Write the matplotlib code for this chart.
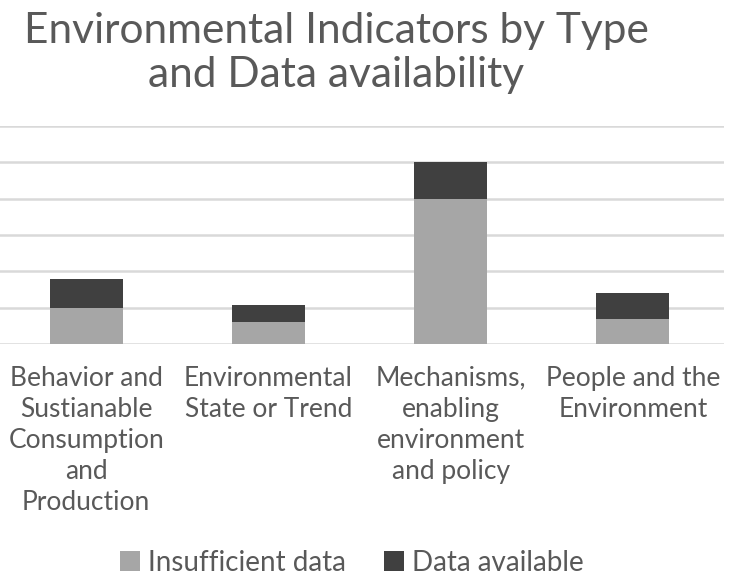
import matplotlib
matplotlib.use("Agg")
import matplotlib.pyplot as plt
import numpy as np

categories = ["Behavior and\nSustianable\nConsumption\nand\nProduction",
              "Environmental\nState or Trend",
              "Mechanisms,\nenabling\nenvironment\nand policy",
              "People and the\nEnvironment"]
insufficient = [5, 3, 20, 3.4]
available = [4, 2.4, 5, 3.6]
series_names = ["Insufficient data", "Data available"]

plt.rcParams['font.family'] = ['Lato', 'DejaVu Sans']
W, H = 731, 584
fig = plt.figure(figsize=(W/100, H/100), dpi=100)
ax = fig.add_axes([-5/W, (H-344)/H, 729/W, (344-126)/H])

x = np.arange(len(categories))
c1, c2 = "#a6a6a6", "#404040"
ax.bar(x, insufficient, width=0.4, color=c1, label=series_names[0], zorder=3)
ax.bar(x, available, width=0.4, bottom=insufficient, color=c2, label=series_names[1], zorder=3)

ax.set_xlim(-0.5, 3.5)
ax.set_ylim(0, 30)
ax.set_yticks(np.arange(0, 31, 5))
ax.yaxis.grid(True, color="#d9d9d9", linewidth=1.8, zorder=0)
ax.tick_params(left=False, labelleft=False, bottom=False)
for s in ax.spines.values():
    s.set_visible(False)
ax.set_xticks(x)
ax.set_xticklabels(categories, fontsize=19, color="#595959", linespacing=1.3)
ax.tick_params(axis='x', pad=12)

fig.text(336/W, 1 - 53/H, "Environmental Indicators by Type\nand Data availability",
         ha="center", va="center", fontsize=30.5, color="#595959", linespacing=1.22)

fig.legend(loc="center", bbox_to_anchor=(352/W, 1 - 563/H), ncol=2, frameon=False,
           fontsize=20, handlelength=0.72, handleheight=0.72, columnspacing=1.35,
           handletextpad=0.3, labelcolor="#595959")

fig.savefig("out.png", dpi=100)
